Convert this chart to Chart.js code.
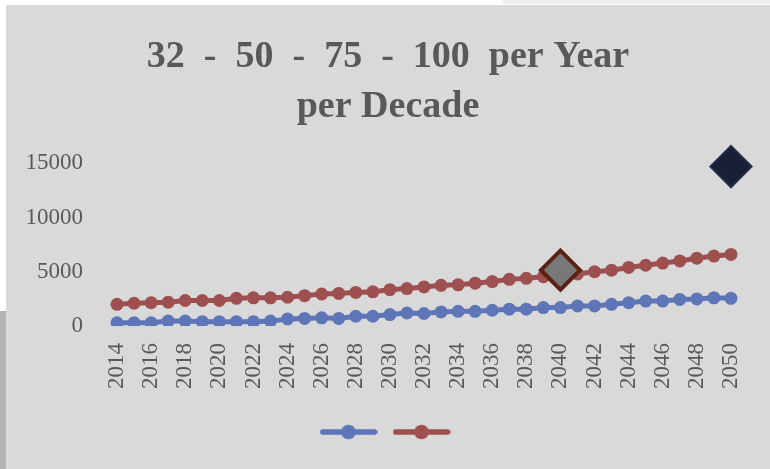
<!DOCTYPE html>
<html>
<head>
<meta charset="utf-8">
<script src="https://cdn.jsdelivr.net/npm/chart.js@4.4.1/dist/chart.umd.min.js"></script>
<style>
  body { margin: 0; background: #fff; }
  #tira-arriba { position: absolute; left: 502px; top: 0; width: 268px; height: 4px; background: #f0f0f0; }
  #tira-izq { position: absolute; left: 0; top: 311px; width: 6px; height: 158px; background: #b3b3b3; }
  #marco { position: absolute; left: 6px; top: 5px; width: 764px; height: 464px; background: #d9d9d9; }
</style>
</head>
<body>
<div id="tira-arriba"></div>
<div id="tira-izq"></div>
<div id="marco"><canvas id="grafico" width="764" height="464"></canvas></div>
<script>
// Datos
const years = ['2014', '2015', '2016', '2017', '2018', '2019', '2020', '2021', '2022', '2023',
	'2024', '2025', '2026', '2027', '2028', '2029', '2030', '2031', '2032', '2033',
	'2034', '2035', '2036', '2037', '2038', '2039', '2040', '2041', '2042', '2043',
	'2044', '2045', '2046', '2047', '2048', '2049', '2050'];
const serieAzul = [300, 300, 300, 450, 450, 400, 400, 400, 400, 450,
	650, 700, 750, 700, 900, 900, 1050, 1200, 1150, 1300,
	1350, 1350, 1450, 1550, 1550, 1700, 1700, 1850, 1850, 2000,
	2150, 2300, 2300, 2450, 2500, 2600, 2550];
const serieRoja = [2000, 2100, 2150, 2200, 2350, 2350, 2350, 2550, 2600, 2600,
	2650, 2800, 2950, 3000, 3100, 3150, 3350, 3450, 3600, 3750,
	3800, 3950, 4100, 4300, 4400, 4550, 4650, 4800, 5000, 5150,
	5400, 5600, 5800, 6000, 6250, 6450, 6600];
const hitoYears = ['2040', '2050'];
const hitoValores = [5150, 14700];
const yTicks = [0, 5000, 10000, 15000];

const colorAzul = '#5e76b8';
const colorRojo = '#9e5050';
const colorTexto = '#595959';

// Icono de leyenda: línea con punto
function iconoLeyenda(color) {
	const c = document.createElement('canvas');
	c.width = 58;
	c.height = 18;
	const g = c.getContext('2d');
	g.strokeStyle = color;
	g.fillStyle = color;
	g.lineWidth = 5.5;
	g.lineCap = 'round';
	g.beginPath();
	g.moveTo(3, 9);
	g.lineTo(55, 9);
	g.stroke();
	g.beginPath();
	g.arc(29, 9, 7.3, 0, Math.PI * 2);
	g.fill();
	return c;
}
const iconos = [iconoLeyenda(colorAzul), iconoLeyenda(colorRojo)];

var ctx = document.getElementById('grafico').getContext('2d');
var grafico = new Chart(ctx, {
	type: 'line',
	data: {
		labels: years,
		datasets: [
			{
				data: serieAzul,
				borderColor: colorAzul,
				backgroundColor: colorAzul,
				borderWidth: 5,
				pointRadius: 6.5,
				pointBorderWidth: 0,
				order: 2,
			},
			{
				data: serieRoja,
				borderColor: colorRojo,
				backgroundColor: colorRojo,
				borderWidth: 5,
				pointRadius: 6.5,
				pointBorderWidth: 0,
				order: 2,
			},
			{
				data: [{ x: hitoYears[0], y: hitoValores[0] }],
				showLine: false,
				clip: false,
				pointStyle: 'rectRot',
				pointRadius: 19.5,
				pointBorderWidth: 4,
				borderColor: '#5b2212',
				backgroundColor: '#787878',
				order: 0,
			},
			{
				data: [{ x: hitoYears[1], y: hitoValores[1] }],
				showLine: false,
				clip: false,
				pointStyle: 'rectRot',
				pointRadius: 21,
				pointBorderWidth: 1.5,
				borderColor: '#27324e',
				backgroundColor: '#172036',
				order: 0,
			},
		],
	},
	options: {
		responsive: false,
		animation: false,
		devicePixelRatio: 1,
		layout: {
			padding: { left: 0, right: 0, top: 0, bottom: 21 },
		},
		plugins: {
			tooltip: { enabled: false },
			title: {
				display: true,
				text: ['32  -  50  -  75  -  100  per Year', 'per Decade'],
				color: colorTexto,
				font: { family: 'Liberation Serif', size: 38, weight: 'bold', lineHeight: 1.32 },
				padding: { top: 27, bottom: 31 },
			},
			legend: {
				position: 'bottom',
				labels: {
					usePointStyle: true,
					pointStyleWidth: 56,
					padding: 11,
					font: { size: 12 },
					generateLabels: function () {
						return iconos.map(function (icono, i) {
							return { text: '', pointStyle: icono, datasetIndex: i, lineWidth: 0 };
						});
					},
				},
			},
		},
		scales: {
			x: {
				offset: true,
				grid: { display: false },
				border: { display: false },
				ticks: {
					color: colorTexto,
					font: { family: 'Liberation Serif', size: 23 },
					minRotation: 90,
					maxRotation: 90,
					autoSkip: false,
					padding: 9,
					callback: function (value, index) {
						return index % 2 === 0 ? years[index] : '';
					},
				},
				afterFit: function (scale) {
					scale.height = 89;
				},
			},
			y: {
				min: 0,
				max: 15000,
				grid: { display: false },
				border: { display: false },
				afterBuildTicks: function (scale) {
					scale.ticks = yTicks.map(function (v) { return { value: v }; });
				},
				ticks: {
					color: colorTexto,
					font: { family: 'Liberation Serif', size: 23 },
					padding: 17.5,
					callback: function (value) {
						return String(value);
					},
				},
				afterFit: function (scale) {
					scale.width = 102.5;
				},
			},
			// eje vacío a la derecha para dejar el margen
			margen: {
				position: 'right',
				grid: { display: false },
				border: { display: false },
				ticks: { display: false },
				afterFit: function (scale) {
					scale.width = 30.5;
				},
			},
		},
	},
});
</script>
</body>
</html>
